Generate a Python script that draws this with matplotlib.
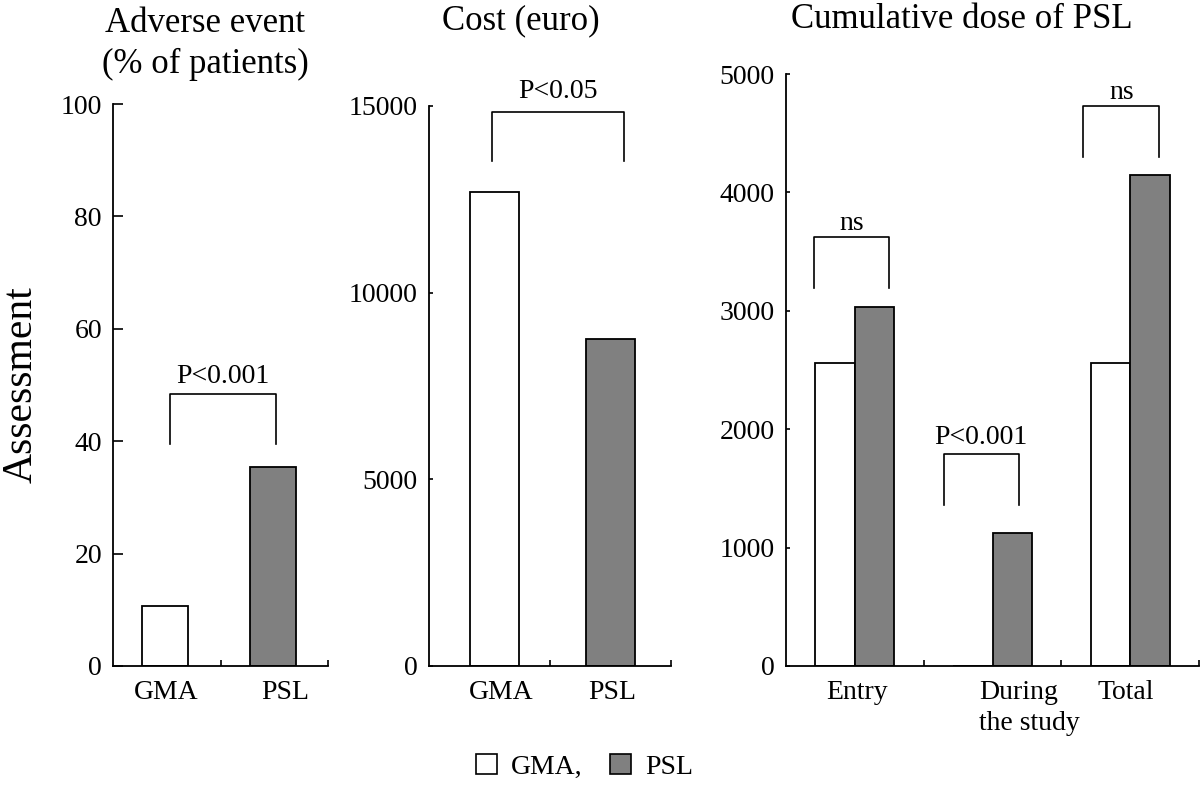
#!/usr/bin/env python3

import matplotlib

matplotlib.use("Agg")

import matplotlib.pyplot as plt
from matplotlib.patches import Patch

plt.rcParams["font.family"] = ["Liberation Serif", "DejaVu Serif"]

groups = ["GMA", "PSL"]
adverse_pct = [10.7, 35.4]
cost_euro = [12700, 8750]

dose_periods = ["Entry", "During\nthe study", "Total"]
dose_gma = [2560, 0, 2560]
dose_psl = [3030, 1120, 4150]

GREY = "#808080"
TICK_SIZE = 20
TITLE_SIZE = 25


def style_axis(ax, ymax, yticks, xmax, tick_len):
    ax.set_ylim(0, ymax)
    ax.set_xlim(0, xmax)
    ax.set_yticks(yticks)
    ax.spines["top"].set_visible(False)
    ax.spines["right"].set_visible(False)
    ax.spines["left"].set_linewidth(1.3)
    ax.spines["bottom"].set_linewidth(1.3)
    ax.tick_params(axis="y", direction="in", length=tick_len, width=1.2,
                   labelsize=TICK_SIZE, pad=8)
    ax.set_xticks(range(1, xmax + 1), minor=True)
    ax.tick_params(axis="x", which="minor", direction="in", length=4, width=1.2)
    ax.tick_params(axis="x", which="major", length=0, labelsize=TICK_SIZE, pad=10)


def bracket(ax, x1, x2, y_low, y_top, label, gap=7):
    ax.plot([x1, x1, x2, x2], [y_low, y_top, y_top, y_low],
            color="black", lw=1.2, clip_on=False)
    ax.annotate(label, ((x1 + x2) / 2, y_top), xytext=(0, gap),
                textcoords="offset points", ha="center", va="baseline",
                fontsize=TICK_SIZE, annotation_clip=False)


fig = plt.figure(figsize=(12, 7.85), dpi=100)

# panel 1: adverse events
ax1 = fig.add_axes([0.0942, 0.1516, 0.1792, 0.7159])
ax1.bar([0.48, 1.49], adverse_pct, width=0.43, color=["white", GREY],
        edgecolor="black", linewidth=1.3)
style_axis(ax1, 100, [0, 20, 40, 60, 80, 100], 2, 7)
ax1.set_xticks([0.49, 1.6])
ax1.set_xticklabels(groups)
bracket(ax1, 0.53, 1.52, 39.5, 48.4, "P<0.001", gap=8)
ax1.set_title("Adverse event\n(% of patients)", fontsize=TITLE_SIZE,
              pad=22, linespacing=1.35, x=0.43)
ax1.set_ylabel("Assessment", fontsize=30, labelpad=14)

# panel 2: cost
ax2 = fig.add_axes([0.3575, 0.1516, 0.2017, 0.7134])
ax2.bar([0.54, 1.5], cost_euro, width=0.4, color=["white", GREY],
        edgecolor="black", linewidth=1.3)
style_axis(ax2, 15000, [0, 5000, 10000, 15000], 2, 3)
ax2.set_xticks([0.6, 1.51])
ax2.set_xticklabels(groups)
bracket(ax2, 0.52, 1.61, 13530, 14840, "P<0.05", gap=10)
ax2.set_title("Cost (euro)", fontsize=TITLE_SIZE, pad=55, x=0.38)

# panel 3: cumulative PSL dose
ax3 = fig.add_axes([0.655, 0.1516, 0.3442, 0.7541])
centers = [0.5, 1.5, 2.5]
w = 0.287
ax3.bar([c - w / 2 for c in centers], dose_gma, width=w, color="white",
        edgecolor="black", linewidth=1.3)
ax3.bar([c + w / 2 for c in centers], dose_psl, width=w, color=GREY,
        edgecolor="black", linewidth=1.3)
style_axis(ax3, 5000, [0, 1000, 2000, 3000, 4000, 5000], 3, 3)
ax3.set_xticks([0.516, 1.77, 2.47])
ax3.set_xticklabels(dose_periods, linespacing=1.3)
for lbl in ax3.get_xticklabels():
    lbl.set_multialignment("left")
bracket(ax3, 0.2, 0.75, 3193, 3623, "ns", gap=5)
bracket(ax3, 1.147, 1.69, 1360, 1790, "P<0.001", gap=7)
bracket(ax3, 2.16, 2.71, 4299, 4730, "ns", gap=5)
ax3.set_title("Cumulative dose of PSL", fontsize=TITLE_SIZE, pad=33, x=0.426)

handles = [
    Patch(facecolor="white", edgecolor="black", linewidth=1.2),
    Patch(facecolor=GREY, edgecolor="black", linewidth=1.2),
]
fig.legend(handles, ["GMA,", "PSL"], loc="lower center",
           bbox_to_anchor=(0.487, -0.025), ncol=2, frameon=False,
           fontsize=TICK_SIZE, handlelength=0.75, handleheight=0.75,
           handletextpad=0.5, columnspacing=1.0)

fig.savefig("out.png", dpi=100)
